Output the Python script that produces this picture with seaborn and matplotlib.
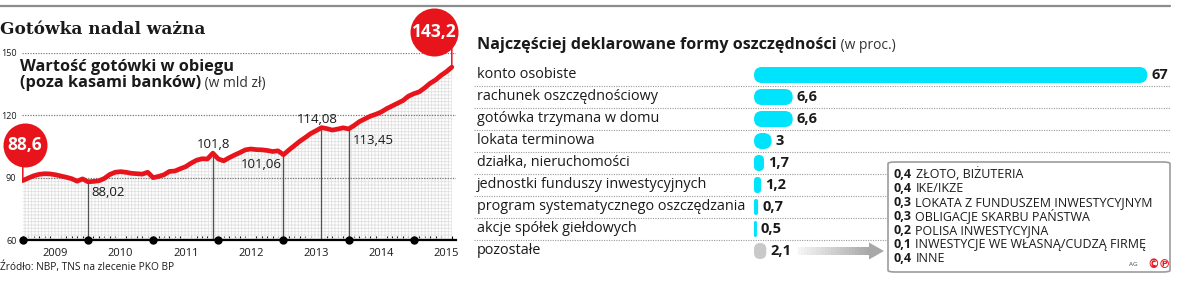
import numpy as np
import pandas as pd
import matplotlib
matplotlib.use("Agg")
import matplotlib.pyplot as plt
import seaborn as sns
from matplotlib.patches import FancyBboxPatch, Rectangle, Polygon
from matplotlib.lines import Line2D
from matplotlib.text import Annotation
from matplotlib.transforms import IdentityTransform, offset_copy

# ---------------- data ----------------
# monthly cash in circulation, Jan 2009 .. Aug 2015 (bln PLN)
cash = [88.6, 89.8, 90.9, 91.6, 91.9, 91.8, 91.4, 90.8, 90.2, 89.5, 88.3, 89.4,
        88.02, 88.2, 88.5, 89.6, 91.5, 92.6, 92.9, 92.6, 92.1, 91.9, 91.7, 92.6,
        90.0, 90.6, 91.4, 93.0, 93.2, 94.3, 95.3, 97.0, 98.4, 99.1, 99.0, 101.8,
        99.0, 98.1, 99.6, 100.9, 102.1, 103.4, 103.8, 103.5, 103.4, 103.1, 102.6, 102.9,
        101.06, 103.3, 105.4, 107.5, 109.3, 111.2, 112.6, 114.08, 113.6, 112.9, 113.4, 114.0,
        113.45, 115.1, 117.0, 118.3, 119.6, 120.5, 121.6, 123.2, 124.5, 125.8, 127.1, 129.2,
        130.4, 131.3, 133.2, 135.4, 137.0, 139.2, 141.0, 143.2]
years = ["2009", "2010", "2011", "2012", "2013", "2014", "2015"]
y_ticks = [60, 90, 120, 150]
mark_months = [12, 35, 48, 55, 60]
mark_labels = ["88,02", "101,8", "101,06", "114,08", "113,45"]
start_label = "88,6"
end_label = "143,2"

bar_labels = ["konto osobiste", "rachunek oszczędnościowy", "gotówka trzymana w domu",
              "lokata terminowa", "działka, nieruchomości", "jednostki funduszy inwestycyjnych",
              "program systematycznego oszczędzania", "akcje spółek giełdowych", "pozostałe"]
bar_values = [67, 6.6, 6.6, 3, 1.7, 1.2, 0.7, 0.5, 2.1]
bar_value_text = ["67", "6,6", "6,6", "3", "1,7", "1,2", "0,7", "0,5", "2,1"]

other_values = ["0,4", "0,4", "0,3", "0,3", "0,2", "0,1", "0,4"]
other_labels = ["ZŁOTO, BIŻUTERIA", "IKE/IKZE", "LOKATA Z FUNDUSZEM INWESTYCYJNYM",
                "OBLIGACJE SKARBU PAŃSTWA", "POLISA INWESTYCYJNA",
                "INWESTYCJE WE WŁASNĄ/CUDZĄ FIRMĘ", "INNE"]

# ---------------- style ----------------
sns.set_theme(style="white")
plt.rcParams["font.family"] = ["Open Sans", "DejaVu Sans"]
plt.rcParams["hatch.linewidth"] = 0.6
plt.rcParams["hatch.color"] = "#e0e0e0"
RED = "#e8141c"
CYAN = "#00e3fc"
GREY = "#c9c9c9"
TXT = "#1a1a1a"

W, H = 1182, 284
fig = plt.figure(figsize=(W / 100, H / 100), dpi=100)
fig.patch.set_facecolor("white")


def fx(px):
    return px / W


def fy(py):
    return 1 - py / H


# top rule
fig.add_artist(Line2D([0, fx(1170)], [fy(6), fy(6)], transform=fig.transFigure,
                      color="#8c8c8c", lw=1.6))

# ---------------- left: line chart ----------------
ax = fig.add_axes([fx(22), fy(240), fx(455.6 - 22), fy(53) - fy(240)])
month_idx = np.arange(len(cash))
cash_arr = np.array(cash)
ax.set_xlim(-0.15, 79.7)
ax.set_ylim(60, 150)

ax.fill_between(month_idx, 60, cash_arr, facecolor="none", edgecolor="#e0e0e0",
                hatch="+++++", linewidth=0, zorder=1)
for t in y_ticks[1:]:
    ax.axhline(t, color="#7a7a7a", ls=(0, (1, 1.1)), lw=0.9, zorder=1.5)
ax.vlines(mark_months, 60, cash_arr[mark_months], color="#505050", lw=0.9, zorder=2)
sns.lineplot(x=month_idx, y=cash_arr, ax=ax, color=RED, linewidth=3.4, zorder=3)
for ln in ax.lines:
    if ln.get_color() == RED:
        ln.set_solid_capstyle("round")
        ln.set_solid_joinstyle("round")

ax.set_yticks(y_ticks)
ax.set_yticklabels([str(t) for t in y_ticks], fontsize=6.5, color=TXT)
ax.grid(False)
ax.tick_params(axis="y", length=0, pad=4)

year_starts = np.arange(0, 12 * len(years), 12)
ax.set_xticks(year_starts + 6)
ax.set_xticklabels(years, fontsize=8, color=TXT)
ax.set_xticks(np.arange(0, 80, 1), minor=True)
ax.tick_params(axis="x", which="major", length=0, pad=6)
ax.tick_params(axis="x", which="minor", direction="in", length=3.2, width=0.8,
               color="black", bottom=True)
for s in ["left", "right", "top"]:
    ax.spines[s].set_visible(False)
ax.spines["bottom"].set_color("black")
ax.spines["bottom"].set_linewidth(1.6)
ax.spines["bottom"].set_zorder(4)
ax.plot(year_starts, [60] * len(year_starts), "o", color="black", ms=5,
        clip_on=False, zorder=5)

# marked values
mark_cfg = {  # dx, dy (pixels), ha
    "88,02": (3, -11, "left"),
    "101,8": (1, 9, "center"),
    "101,06": (-2, -10, "right"),
    "114,08": (-4, 8, "center"),
    "113,45": (4, -12, "left"),
}
for m, lab in zip(mark_months, mark_labels):
    dx, dy, ha = mark_cfg[lab]
    ax.annotate(lab, xy=(m, cash_arr[m]), xytext=(dx, dy), textcoords="offset pixels",
                ha=ha, va="center", fontsize=9.5, color=TXT, zorder=6)


# red bubbles
def bubble(m, label, dx, dy, diam, stem):
    v = cash_arr[m]
    tr = offset_copy(ax.transData, fig=fig, x=dx, y=dy, units="dots")
    ax.annotate("", xy=(m, v), xytext=(0, stem), textcoords="offset pixels",
                arrowprops=dict(arrowstyle="-", color=RED, lw=1.1, shrinkA=0, shrinkB=0),
                zorder=6)
    ax.scatter([m], [v], s=(diam * 0.72) ** 2, color=RED, linewidths=0,
               transform=tr, clip_on=False, zorder=7)
    ax.text(m, v, label, transform=tr, ha="center", va="center", color="white",
            fontsize=12.5, fontweight="bold", zorder=8, clip_on=False)


bubble(0, start_label, 2, 36, 44, 20)
bubble(len(cash) - 1, end_label, -18, 35, 48, 22)

# titles (left)
fig.text(fx(0), fy(30), "Gotówka nadal ważna", family="DejaVu Serif", fontweight="bold",
         fontsize=12.2, color=TXT, va="center", ha="left")
fig.text(fx(20), fy(67), "Wartość gotówki w obiegu", fontweight="bold", fontsize=11.8,
         color=TXT, va="center", ha="left")
t2 = fig.text(fx(20), fy(83), "(poza kasami banków)", fontweight="bold", fontsize=11.8,
              color=TXT, va="center", ha="left")
ax.annotate(" (w mld zł)", xy=(1, 0), xycoords=t2, xytext=(0, 0), textcoords="offset points",
            ha="left", va="bottom", fontsize=10, color="#333333", annotation_clip=False)
fig.text(fx(0), fy(267), "Źródło: NBP, TNS na zlecenie PKO BP", fontsize=7.3, color=TXT,
         va="center", ha="left")

# ---------------- right: bar chart ----------------
px_per_unit = 5.87
x0px, x1px, zpx = 474, 1170, 754
rax = fig.add_axes([fx(x0px), fy(262), fx(x1px - x0px), fy(64) - fy(262)])
palette = [CYAN] * (len(bar_labels) - 1) + [GREY]
sns.barplot(x=bar_values, y=bar_labels, hue=bar_labels, palette=palette, legend=False,
            width=16 / 22, orient="h", ax=rax, saturation=1)
rax.set_xlim(-(zpx - x0px) / px_per_unit, (x1px - zpx) / px_per_unit)
rax.set_ylim(len(bar_labels) - 0.5, -0.5)
rax.axis("off")

for i in range(len(bar_labels) - 1):
    rax.axhline(i + 0.5, color="#9a9a9a", ls=(0, (1, 1.2)), lw=0.8, zorder=0)

# turn rectangles into rounded pills (display coords)
fig.canvas.draw()
for p in list(rax.patches):
    x, y, w, h = p.get_x(), p.get_y(), p.get_width(), p.get_height()
    (ax0, ay0), (ax1, ay1) = rax.transData.transform([(x, y), (x + w, y + h)])
    X0, X1 = min(ax0, ax1), max(ax0, ax1)
    Y0, Y1 = min(ay0, ay1), max(ay0, ay1)
    pw, ph = X1 - X0, Y1 - Y0
    r = min(pw, ph) / 2
    fb = FancyBboxPatch((X0, Y0), pw, ph, boxstyle=f"round,pad=0,rounding_size={r}",
                        transform=IdentityTransform(), facecolor=p.get_facecolor(),
                        edgecolor="none", zorder=2)
    p.set_visible(False)
    rax.add_artist(fb)

for i, (lab, v, vt) in enumerate(zip(bar_labels, bar_values, bar_value_text)):
    rax.annotate(lab, xy=(0, i), xycoords=("axes fraction", "data"), xytext=(3, 0),
                 textcoords="offset pixels", ha="left", va="center", fontsize=10.4, color=TXT)
    rax.annotate(vt, xy=(v, i), xytext=(4, 0), textcoords="offset pixels", ha="left",
                 va="center", fontsize=10.5, fontweight="bold", color=TXT)

# right title
tt = fig.text(fx(477), fy(45), "Najczęściej deklarowane formy oszczędności", fontweight="bold",
              fontsize=11.6, color=TXT, va="center", ha="left")
rax.annotate(" (w proc.)", xy=(1, 0), xycoords=tt, xytext=(0, 0), textcoords="offset points",
             ha="left", va="bottom", fontsize=10, color="#333333", annotation_clip=False)

# arrow from "pozostałe" to the box
ay = fy(251)
n = 24
sx0, sx1 = 798, 870
for k in range(n):
    c = 0.96 - 0.30 * (k / (n - 1))
    xa = sx0 + (sx1 - sx0) * k / n
    fig.patches.append(Rectangle((fx(xa), ay - 4 / H), fx((sx1 - sx0) / n + 0.5), 8 / H,
                                 transform=fig.transFigure, facecolor=(c, c, c),
                                 edgecolor="none"))
fig.patches.append(Polygon([(fx(869), ay + 8.5 / H), (fx(884), ay), (fx(869), ay - 8.5 / H)],
                           closed=True, transform=fig.transFigure, facecolor=(0.66, 0.66, 0.66),
                           edgecolor="none"))

# box with other forms
box = FancyBboxPatch((fx(888), fy(272)), fx(1170 - 888), fy(162) - fy(272),
                     boxstyle="round,pad=0,rounding_size=0.006", transform=fig.transFigure,
                     facecolor="white", edgecolor="#9c9c9c", lw=1.2, zorder=5)
fig.patches.append(box)
line_y = [175, 189, 203, 217, 231, 244.5, 258]
for yy, v, lab in zip(line_y, other_values, other_labels):
    tv = fig.text(fx(894), fy(yy), v, fontweight="bold", fontsize=9, color=TXT,
                  va="center", ha="left", zorder=6)
    an = Annotation(lab, xy=(1, 0), xycoords=tv, xytext=(2.5, 0),
                    textcoords="offset points", fontsize=9, color=TXT, va="bottom",
                    ha="left", annotation_clip=False)
    an.set_zorder(6)
    fig.add_artist(an)
fig.text(fx(1129), fy(265), "AG", fontsize=4.5, color="#444444", va="center", ha="left",
         zorder=6)
fig.text(fx(1147), fy(264.5), "©℗", family="DejaVu Sans", fontsize=8.5, fontweight="bold",
         color=RED, va="center", ha="left", zorder=6)

fig.savefig("out.png", dpi=100, facecolor="white")
